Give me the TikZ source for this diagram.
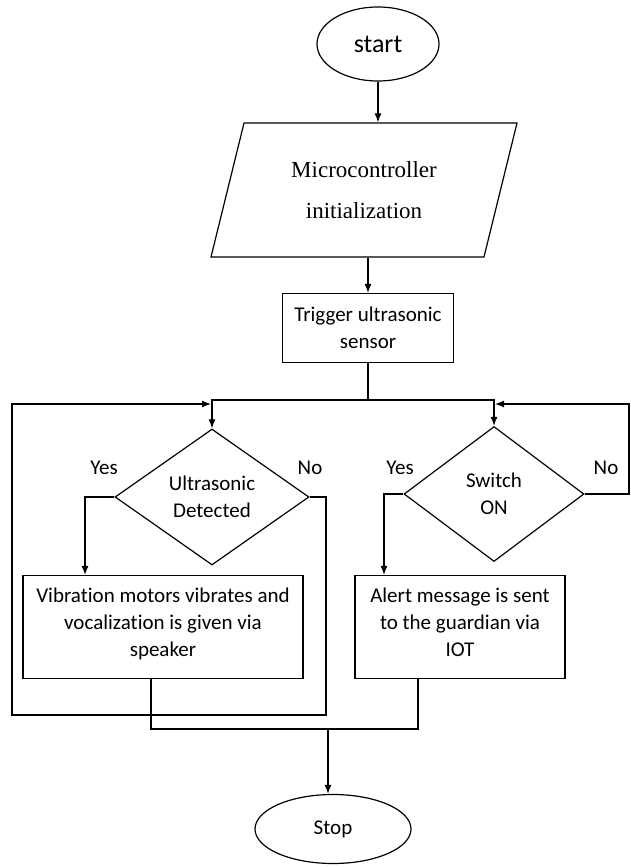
\documentclass[tikz,border=0pt]{standalone}
\usepackage{fontspec}
\setmainfont{Carlito}[Ligatures={NoCommon,NoRare}]
\newfontfamily\initfont{Liberation Serif}
\usetikzlibrary{shapes.geometric,arrows.meta}

\begin{document}
\begin{tikzpicture}[x=1pt,y=-1pt,line width=1.2pt,>={Latex[length=9pt,width=7pt]},
    font=\fontsize{21}{27}\selectfont,
    terminal/.style={draw,ellipse,inner sep=0pt},
    process/.style={draw,rectangle,align=center,inner sep=0pt},
    decision/.style={draw,diamond,align=center,inner sep=0pt}]
    \useasboundingbox (0,0) rectangle (630,867);

    \node[terminal,minimum width=122,minimum height=74,font=\fontsize{26}{30}\selectfont] (start) at (378,44) {start};
    \node[draw,trapezium,trapezium left angle=60,trapezium right angle=120,trapezium stretches body,
        minimum width=306,minimum height=134,align=center,inner sep=0pt,
        font=\initfont\fontsize{23}{41}\selectfont] (init) at (364,190) {Microcontroller\\initialization};
    \node[process,minimum width=171,minimum height=69] (trigger) at (368,328) {Trigger ultrasonic\\sensor};
    \node[decision,shape aspect=1.43,minimum width=194,minimum height=136] (detect) at (212,497) {Ultrasonic\\Detected};
    \node[decision,shape aspect=1.33,minimum width=180,minimum height=135] (switch) at (494,494) {Switch\\ON};
    \node[process,minimum width=280,minimum height=103,text depth=10pt] (vib) at (163,627) {Vibration motors vibrates and\\vocalization is given via\\speaker};
    \node[process,minimum width=210,minimum height=103,text depth=10pt] (alert) at (460,627) {Alert message is sent\\to the guardian via\\IOT};
    \node[terminal,minimum width=156,minimum height=69] (stop) at (333,829) {Stop};

    \node (yesL) at (104,468) {Yes};
    \node (noL) at (310,468) {No};
    \node (yesR) at (400,468) {Yes};
    \node (noR) at (606,468) {No};

    \coordinate (split) at (368,400);
    \coordinate (mergeL) at (211,404);
    \coordinate (mergeR) at (495,404);
    \coordinate (loopL) at (326,715);
    \coordinate (backL) at (12,715);
    \coordinate (backR) at (629,494);
    \coordinate (join) at (328,729);

    \draw[->] (start) -- (start.south |- init.north);
    \draw[->] (trigger.north |- init.south) -- (trigger);
    \draw (trigger) -- (split);
    \draw[->] (split) -| (detect);
    \draw[->] (split) -| (switch);
    %loops back
    \draw[->] (detect.east) -| (loopL) -- (backL) |- (mergeL);
    \draw[->] (switch.east) -- (backR) |- (mergeR);
    \draw[->] (detect.west) -| ([xshift=-78pt]vib.north);
    \draw[->] (switch.west) -| ([xshift=-76pt]alert.north);
    \draw ([xshift=-12pt]vib.south) |- (join);
    \draw ([xshift=-42pt]alert.south) |- (join);
    \draw[->] (join) -- (join |- stop.north);
\end{tikzpicture}
\end{document}
